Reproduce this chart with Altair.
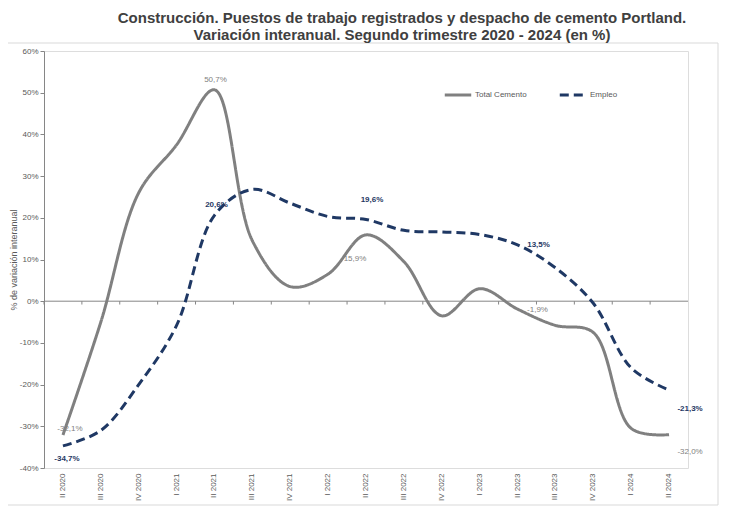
import altair as alt
import pandas as pd

quarters = ["II 2020", "III 2020", "IV 2020", "I 2021", "II 2021", "III 2021", "IV 2021",
            "I 2022", "II 2022", "III 2022", "IV 2022", "I 2023", "II 2023", "III 2023",
            "IV 2023", "I 2024", "II 2024"]
cemento = [-32.1, -5.0, 26.0, 37.5, 50.7, 14.5, 3.5, 6.5, 15.9, 9.5, -3.5, 3.0, -1.9,
           -5.8, -7.5, -30.5, -32.0]
empleo = [-34.7, -31.0, -20.0, -5.8, 20.6, 26.8, 23.5, 20.3, 19.6, 17.0, 16.6, 16.0, 13.5,
          8.0, -0.5, -16.0, -21.3]
series_names = ["Total Cemento", "Empleo"]
y_ticks = [-40, -30, -20, -10, 0, 10, 20, 30, 40, 50, 60]

# labelled points: (series, quarter)
labelled = [("Total Cemento", "II 2020"), ("Empleo", "II 2020"),
            ("Total Cemento", "II 2021"), ("Empleo", "II 2021"),
            ("Empleo", "II 2022"), ("Total Cemento", "II 2022"),
            ("Empleo", "II 2023"), ("Total Cemento", "II 2023"),
            ("Empleo", "II 2024"), ("Total Cemento", "II 2024")]

rows = []
for i, q in enumerate(quarters):
    rows.append({"quarter": q, "serie": "Total Cemento", "value": cemento[i]})
    rows.append({"quarter": q, "serie": "Empleo", "value": empleo[i]})
df = pd.DataFrame(rows)

GRAY = "#808080"
NAVY = "#1f3864"
AX = "#868686"
TXT = "#595959"
FONT = "Liberation Sans"

xscale = alt.Scale(type="band", domain=quarters, paddingInner=0, paddingOuter=0)
yscale = alt.Scale(domain=[-40, 60], nice=False, zero=False)

x_enc = alt.X("quarter:N", sort=quarters, scale=xscale,
              axis=alt.Axis(title=None, labelAngle=270, domain=False, ticks=False,
                            labelPadding=5, labelFontSize=8, labelColor=TXT, labelFont=FONT))
y_enc = alt.Y("value:Q", scale=yscale,
              axis=alt.Axis(title="% de variación interanual", values=y_ticks,
                            labelExpr="datum.value + '%'", grid=False,
                            domainColor=AX, tickColor=AX, tickSize=4,
                            labelFontSize=8, labelColor=TXT, labelFont=FONT,
                            titleFontSize=9, titleFontWeight="normal", titleColor=TXT,
                            titleFont=FONT, titlePadding=1))

legend = alt.Legend(title=None, orient="none", legendX=399, legendY=29, direction="horizontal",
                    symbolType="stroke", symbolSize=700, symbolStrokeWidth=3,
                    labelFontSize=8, labelColor=TXT, labelFont=FONT, columnPadding=26,
                    labelOffset=2)

lines = alt.Chart(df).mark_line(interpolate="catmull-rom", strokeWidth=3, strokeCap="butt").encode(
    x=x_enc,
    y=y_enc,
    color=alt.Color("serie:N", scale=alt.Scale(domain=series_names, range=[GRAY, NAVY]), legend=legend),
    strokeDash=alt.StrokeDash("serie:N", scale=alt.Scale(domain=series_names, range=[[1, 0], [9, 5]]),
                              legend=legend),
    detail="serie:N",
)

zero = alt.Chart(pd.DataFrame({"v": [0]})).mark_rule(color=AX, strokeWidth=1).encode(
    y=alt.Y("v:Q", scale=yscale))

ticks = alt.Chart(pd.DataFrame({"quarter": quarters})).mark_rule(color=AX, strokeWidth=1).encode(
    x=alt.X("quarter:N", sort=quarters, scale=xscale, bandPosition=0),
    y=alt.YDatum(0),
    y2=alt.Y2Datum(-0.8),
)

frame = alt.Chart(pd.DataFrame({"a": [0]})).mark_rect(fill=None, stroke="#d9d9d9", strokeWidth=1).encode(
    x=alt.value(-37), x2=alt.value(674), y=alt.value(-8), y2=alt.value(454))

# label offsets (style only)
offsets = {
    ("Total Cemento", "II 2020"): (7, -6),
    ("Empleo", "II 2020"): (4, 13),
    ("Total Cemento", "II 2021"): (1, -10),
    ("Empleo", "II 2021"): (2, -10),
    ("Empleo", "II 2022"): (6, -19),
    ("Total Cemento", "II 2022"): (-11, 24),
    ("Empleo", "II 2023"): (21, 0),
    ("Total Cemento", "II 2023"): (20, 1),
    ("Empleo", "II 2024"): (21, 19),
    ("Total Cemento", "II 2024"): (21, 17),
}

label_layers = []
for s, q in labelled:
    sub = df[(df.serie == s) & (df.quarter == q)].copy()
    sub["label"] = sub["value"].map(lambda v: f"{v:.1f}".replace(".", ",") + "%")
    dx, dy = offsets[(s, q)]
    is_emp = s == "Empleo"
    label_layers.append(
        alt.Chart(sub).mark_text(
            dx=dx, dy=dy, fontSize=8, font=FONT,
            fontWeight="bold" if is_emp else "normal",
            color=NAVY if is_emp else GRAY,
        ).encode(
            x=alt.X("quarter:N", sort=quarters, scale=xscale),
            y=alt.Y("value:Q", scale=yscale),
            text="label:N",
        )
    )

chart = alt.layer(frame, zero, ticks, lines, *label_layers).properties(
    width=644,
    height=417,
    autosize=alt.AutoSizeParams(type="none"),
    padding={"left": 36, "right": 34, "top": 43, "bottom": 40},
    title=alt.TitleParams(
        text=["Construcción. Puestos de trabajo registrados y despacho de cemento Portland.",
              "Variación interanual. Segundo trimestre 2020 - 2024 (en %)"],
        fontSize=15, font=FONT, fontWeight="bold", color="#404040",
        anchor="middle", dx=36, offset=0, lineHeight=17),
).configure_view(stroke=None).configure(background="white")

chart.save("out.html", embed_options={"renderer": "svg", "actions": False})
